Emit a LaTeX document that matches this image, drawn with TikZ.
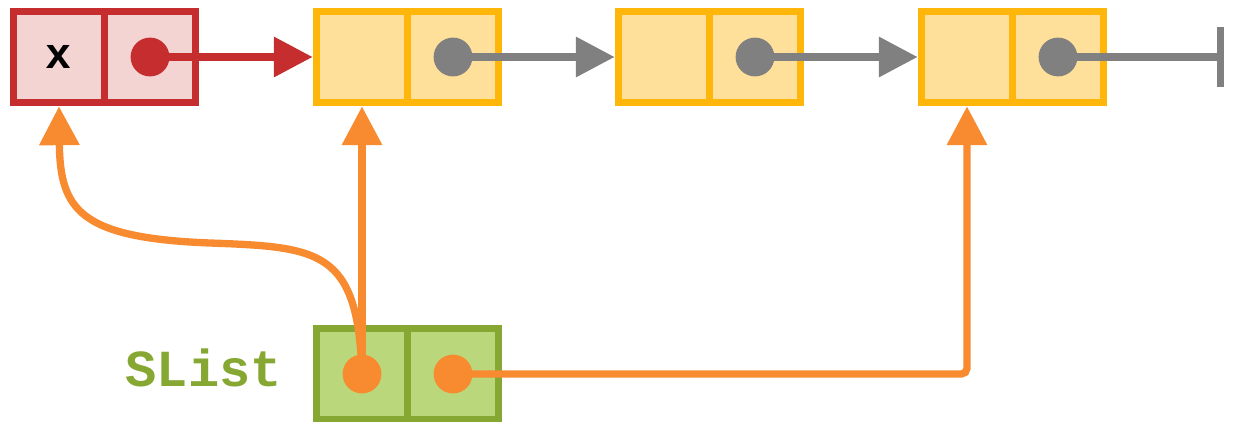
\documentclass[tikz,border=0pt]{standalone}
\usepackage{fontspec}
\newfontfamily\codefont{Liberation Mono}
\usetikzlibrary{arrows.meta}

\definecolor{varline}{HTML}{C62D2F}
\definecolor{varfill}{HTML}{F4D3D3}
\definecolor{listline}{HTML}{FFB60A}
\definecolor{listfill}{HTML}{FFE09A}
\definecolor{headline}{HTML}{86A832}
\definecolor{headfill}{HTML}{BBD77B}
\definecolor{refcol}{HTML}{F88A30}
\definecolor{nextcol}{HTML}{808080}

\begin{document}
\begin{tikzpicture}[x=0.025cm, y=-0.025cm,
  cell/.style={draw, line width=5.5pt, minimum size=2.275cm, inner sep=0pt},
  varcell/.style={cell, draw=varline, fill=varfill},
  listcell/.style={cell, draw=listline, fill=listfill},
  headcell/.style={cell, draw=headline, fill=headfill},
  dot/.style={circle, inner sep=0pt, minimum size=0.97cm},
  ptr/.style={line width=5.2pt, -{Triangle[length=0.97cm,width=0.97cm]}}]
\useasboundingbox (0,0) rectangle (1236,421);

% variable x
\node[varcell] (x) at (59,57) {\fontsize{31}{36}\codefont\bfseries x};
\node[varcell] (xp) at (150,57) {};

% the list cells
\node[listcell] (a) at (362,57) {};
\node[listcell] (ap) at (453,57) {};
\node[listcell] (b) at (664,57) {};
\node[listcell] (bp) at (755,57) {};
\node[listcell] (c) at (967,57) {};
\node[listcell] (cp) at (1058,57) {};
\coordinate (nil) at (1224,57);

% SList header
\node[headcell] (s) at (362,374) {};
\node[headcell] (sp) at (453,374) {};
\node[anchor=base east, inner sep=0pt, text=headline] (slist) at (282,386)
  {\fontsize{37}{42}\codefont\bfseries SList};

% next pointers
\draw[ptr, varline] (xp.center) -- (a.west);
\draw[ptr, nextcol] (ap.center) -- (b.west);
\draw[ptr, nextcol] (bp.center) -- (c.west);
\draw[line width=5.2pt, nextcol, -{Bar[width=1.5cm]}] (cp.center) -- (nil);

% header pointers
\draw[ptr, refcol] (s.center) -- (a.south);
\draw[ptr, refcol, rounded corners=4pt] (sp.center) -| (c.south);
\draw[ptr, refcol] (s.center) .. controls (358,250) and (320,247) .. (210,243)
  .. controls (80,238) and (60,210) .. (x.south);

\node[dot, fill=varline] (xd) at (xp) {};
\node[dot, fill=nextcol] (ad) at (ap) {};
\node[dot, fill=nextcol] (bd) at (bp) {};
\node[dot, fill=nextcol] (cd) at (cp) {};
\node[dot, fill=refcol] (sd) at (s) {};
\node[dot, fill=refcol] (spd) at (sp) {};
\end{tikzpicture}
\end{document}
